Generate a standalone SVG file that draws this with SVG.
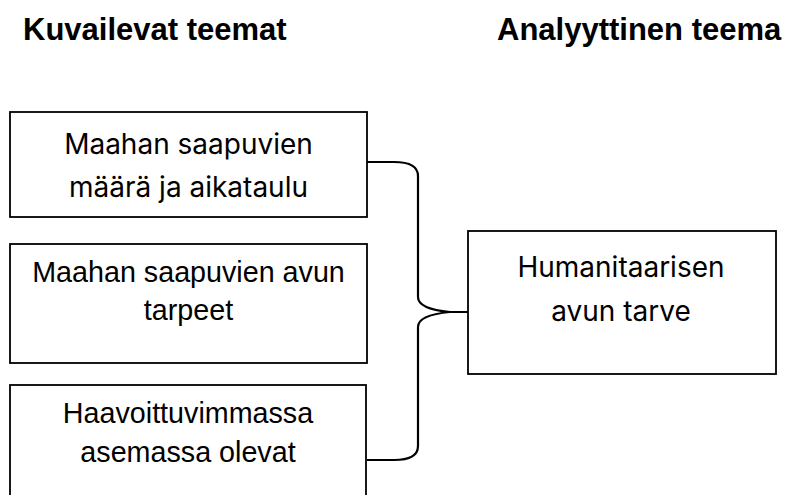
<svg xmlns="http://www.w3.org/2000/svg" width="788" height="495" viewBox="0 0 788 495">
<style>
.bg{fill:#ffffff}
.box{fill:#ffffff;stroke:#000000;stroke-width:1.8}
.h{font-family:"Liberation Sans",Arial,sans-serif;font-weight:bold;font-size:31px;fill:#000000}
.ta{font-family:Inter,"Open Sans",sans-serif;font-size:28px;fill:#000000;text-anchor:middle}
.tb{font-family:"Liberation Sans",Arial,sans-serif;font-size:28.7px;fill:#000000;text-anchor:middle}
.conn{fill:none;stroke:#000000;stroke-width:2.2;stroke-linejoin:round}
</style>
<rect class="bg" x="0" y="0" width="788" height="495"/>
<g id="headers">
<text class="h" x="23" y="40">Kuvailevat teemat</text>
<text class="h" x="497" y="40">Analyyttinen teema</text>
</g>
<g id="connectors">
<path class="conn" d="M367,162 L394,162 Q418,162 418,176 L418,297 Q418,309 450,312 L468,312"/>
<path class="conn" d="M450,312 Q418,315 418,327 L418,446 Q418,460 394,460 L367,460"/>
</g>
<g id="node1">
<rect class="box" x="10" y="112" width="357" height="105"/>
<text class="ta" x="188.5" y="154">Maahan saapuvien</text>
<text class="ta" x="188.5" y="197">määrä ja aikataulu</text>
</g>
<g id="node2">
<rect class="box" x="10" y="244" width="357" height="119"/>
<text class="tb" x="188.5" y="282">Maahan saapuvien avun</text>
<text class="tb" x="188.5" y="320">tarpeet</text>
</g>
<g id="node3">
<rect class="box" x="10" y="385" width="356" height="120"/>
<text class="tb" x="188" y="423">Haavoittuvimmassa</text>
<text class="tb" x="188" y="462">asemassa olevat</text>
</g>
<g id="node4">
<rect class="box" x="468" y="231" width="308" height="143"/>
<text class="ta" x="621" y="277">Humanitaarisen</text>
<text class="ta" x="621" y="321">avun tarve</text>
</g>
</svg>
